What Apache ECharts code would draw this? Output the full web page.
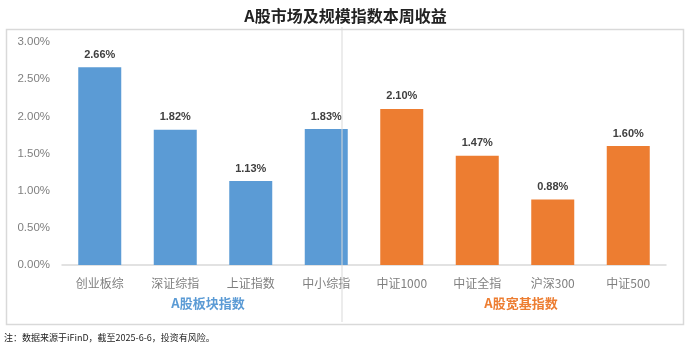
<!DOCTYPE html>
<html>
<head>
<meta charset="utf-8">
<script src="https://cdn.jsdelivr.net/npm/echarts@6/dist/echarts.min.js"></script>
<style>
  html, body { margin: 0; padding: 0; background: #fff; }
  #chart { width: 691px; height: 350px; }
</style>
</head>
<body>
<div id="chart"></div>
<script>
// Weekly returns (%) of A-share sector and broad-based indices
const categories = ['创业板综', '深证综指', '上证指数', '中小综指', '中证1000', '中证全指', '沪深300', '中证500'];
const returns = [2.66, 1.82, 1.13, 1.83, 2.10, 1.47, 0.88, 1.60];
const groupOf = [0, 0, 0, 0, 1, 1, 1, 1];
const groupNames = ['A股板块指数', 'A股宽基指数'];
const groupColors = ['#5B9BD5', '#ED7D31'];
const yTicks = [0, 0.5, 1.0, 1.5, 2.0, 2.5, 3.0];

const chart = echarts.init(document.getElementById('chart'));

const cjk = '"Noto Sans CJK SC", "Liberation Sans", sans-serif';

chart.setOption({
  animation: false,
  backgroundColor: '#fff',
  title: {
    text: 'A股市场及规模指数本周收益',
    left: 'center',
    top: 3,
    textStyle: { fontSize: 16, fontWeight: 'bold', color: '#222', fontFamily: '"Noto Sans CJK SC", serif' }
  },
  grid: { left: 62, right: 25, top: 42, bottom: 85, containLabel: false },
  xAxis: {
    type: 'category',
    data: categories,
    axisLine: { lineStyle: { color: '#d9d9d9', width: 1.5 } },
    axisTick: { show: false },
    axisLabel: { color: '#7f7f7f', fontSize: 12, margin: 12, fontFamily: cjk }
  },
  yAxis: {
    type: 'value',
    min: yTicks[0],
    max: yTicks[yTicks.length - 1],
    interval: 0.5,
    splitLine: { show: false },
    axisLine: { show: false },
    axisTick: { show: false },
    axisLabel: {
      color: '#7f7f7f', fontSize: 11.5, margin: 12,
      fontFamily: '"Liberation Sans", sans-serif',
      formatter: v => v.toFixed(2) + '%'
    }
  },
  series: [{
    type: 'bar',
    barWidth: 43,
    data: returns.map((v, i) => ({
      value: v,
      itemStyle: { color: groupColors[groupOf[i]] }
    })),
    label: {
      show: true,
      position: 'top',
      distance: 7,
      color: '#404040',
      fontSize: 11,
      fontWeight: 'bold',
      fontFamily: '"Liberation Sans", sans-serif',
      formatter: p => p.value.toFixed(2) + '%'
    }
  }],
  graphic: [
    // outer frame
    { type: 'rect', left: 4, top: 27, shape: { width: 677, height: 295 },
      style: { fill: 'none', stroke: '#d9d9d9', lineWidth: 1.5 }, z: 0, silent: true },
    // divider between the two index groups
    { type: 'line', shape: { x1: 342, y1: 27, x2: 342, y2: 322 },
      style: { stroke: '#d9d9d9', lineWidth: 1 }, z: 100, silent: true },
    { type: 'text', x: 208, y: 303,
      style: { text: groupNames[0], fill: groupColors[0], font: 'bold 13px "Noto Sans CJK SC", serif', align: 'center', verticalAlign: 'middle' } },
    { type: 'text', x: 521, y: 303,
      style: { text: groupNames[1], fill: groupColors[1], font: 'bold 13px "Noto Sans CJK SC", serif', align: 'center', verticalAlign: 'middle' } },
    { type: 'text', x: 4, y: 338,
      style: { text: '注：数据来源于iFinD，截至2025-6-6，投资有风险。', fill: '#222', font: '9px "Noto Sans CJK SC", serif', verticalAlign: 'middle' } }
  ]
});
</script>
</body>
</html>
